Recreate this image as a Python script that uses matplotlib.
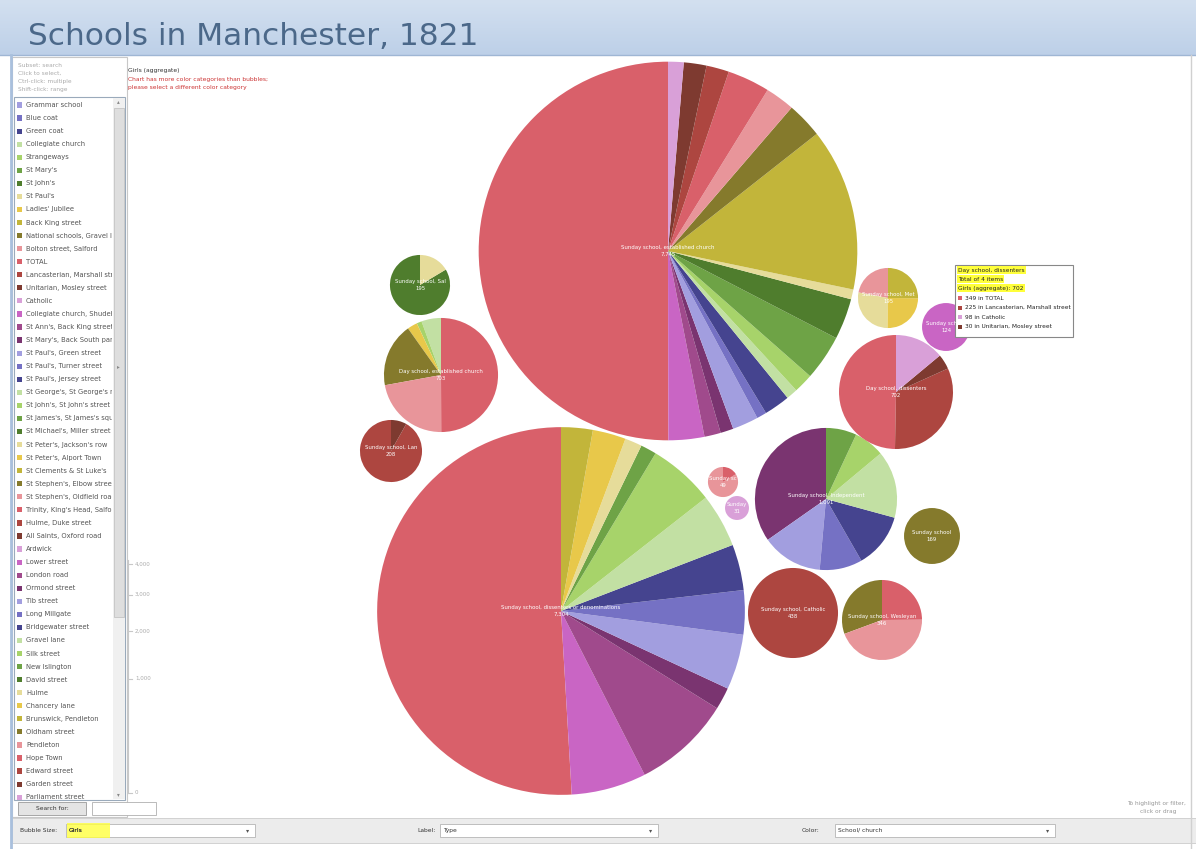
import numpy as np
import matplotlib.pyplot as plt
from matplotlib.patches import Rectangle
from matplotlib.colors import LinearSegmentedColormap

W, H = 1196, 849

# schools, in the order of the colour list on the left
schools = ["Grammar school", "Blue coat", "Green coat", "Collegiate church", "Strangeways",
           "St Mary's", "St John's", "St Paul's", "Ladies' Jubilee", "Back King street",
           "National schools, Gravel lane", "Bolton street, Salford", "TOTAL",
           "Lancasterian, Marshall street", "Unitarian, Mosley street", "Catholic",
           "Collegiate church, Shudehill", "St Ann's, Back King street",
           "St Mary's, Back South parade", "St Paul's, Green street", "St Paul's, Turner street",
           "St Paul's, Jersey street", "St George's, St George's road",
           "St John's, St John's street", "St James's, St James's square",
           "St Michael's, Miller street", "St Peter's, Jackson's row", "St Peter's, Alport Town",
           "St Clements & St Luke's", "St Stephen's, Elbow street", "St Stephen's, Oldfield road",
           "Trinity, King's Head, Salford", "Hulme, Duke street", "All Saints, Oxford road",
           "Ardwick", "Lower street", "London road", "Ormond street", "Tib street",
           "Long Millgate", "Bridgewater street", "Gravel lane", "Silk street", "New Islington",
           "David street", "Hulme", "Chancery lane", "Brunswick, Pendleton", "Oldham street",
           "Pendleton", "Hope Town", "Edward street", "Garden street", "Parliament street"]

palette = ["#a29edf", "#7571c4", "#45448f",
           "#c2e0a3", "#a7d36a", "#6ea346", "#4f7d2d",
           "#e6dc9a", "#e8c84a", "#c2b53a", "#857a2c",
           "#e8959a", "#d9606a", "#ad4640", "#7e3a30",
           "#d9a0d8", "#c965c4", "#a04a8c", "#7a3470"]

# bubbles: type, schools in it, girls per school
bubble_types = ["Sunday school, established church",
                "Sunday school, dissenters or denominations",
                "Day school, established church",
                "Sunday school, Salford",
                "Sunday school, Lancasterian",
                "Sunday school, Methodist",
                "Sunday school, Baptist",
                "Sunday school, Quaker",
                "Sunday school, Welsh",
                "Sunday school, Independent",
                "Sunday school",
                "Sunday school, Catholic",
                "Sunday school, Wesleyan",
                "Day school, dissenters"]

bubble_schools = [
    ["TOTAL", "Collegiate church, Shudehill", "St Ann's, Back King street",
     "St Mary's, Back South parade", "St Paul's, Green street", "St Paul's, Turner street",
     "St Paul's, Jersey street", "St George's, St George's road", "St John's, St John's street",
     "St James's, St James's square", "St Michael's, Miller street", "St Peter's, Jackson's row",
     "St Clements & St Luke's", "St Stephen's, Elbow street", "St Stephen's, Oldfield road",
     "Trinity, King's Head, Salford", "Hulme, Duke street", "All Saints, Oxford road", "Ardwick"],
    ["TOTAL", "Lower street", "London road", "Ormond street", "Tib street", "Long Millgate",
     "Bridgewater street", "Gravel lane", "Silk street", "New Islington", "Hulme",
     "Chancery lane", "Brunswick, Pendleton"],
    ["Collegiate church", "Strangeways", "Ladies' Jubilee", "National schools, Gravel lane",
     "Bolton street, Salford", "TOTAL"],
    ["St John's", "St Paul's"],
    ["Lancasterian, Marshall street", "Unitarian, Mosley street"],
    ["St Stephen's, Oldfield road", "Hulme", "Chancery lane", "Brunswick, Pendleton"],
    ["Collegiate church, Shudehill"],
    ["Pendleton", "Hope Town"],
    ["Parliament street"],
    ["St Mary's, Back South parade", "St Paul's, Green street", "St Paul's, Turner street",
     "St Paul's, Jersey street", "St George's, St George's road", "St John's, St John's street",
     "St James's, St James's square"],
    ["Oldham street"],
    ["Edward street"],
    ["St Stephen's, Elbow street", "St Stephen's, Oldfield road", "Trinity, King's Head, Salford"],
    ["TOTAL", "Lancasterian, Marshall street", "Unitarian, Mosley street", "Catholic"],
]

bubble_girls = [
    [3875, 237, 108, 86, 172, 65, 172, 75, 129, 301, 271, 65, 1075, 237, 194, 280, 150, 150, 103],
    [3720, 481, 629, 142, 355, 284, 294, 345, 426, 102, 110, 213, 203],
    [39, 10, 20, 127, 156, 351],
    [163, 32],
    [191, 17],
    [43, 54, 49, 49],
    [124],
    [41, 8],
    [31],
    [379, 151, 106, 136, 167, 76, 76],
    [169],
    [438],
    [106, 154, 86],
    [349, 225, 30, 98],
]

size_ticks = [0, 1000, 2000, 3000, 4000]

# packed layout: bubble centres in screen pixels
bubble_xy = [(668, 251), (561, 611), (441, 375), (420, 285), (391, 451), (888, 298),
             (946, 327), (723, 482), (737, 508), (826, 499), (932, 536), (793, 613),
             (882, 620), (896, 392)]

fig = plt.figure(figsize=(W / 100, H / 100), dpi=100)
ax = fig.add_axes([0, 0, 1, 1])


def box(x0, y0, x1, y1, **kw):
    ax.add_patch(Rectangle((x0, H - y1), x1 - x0, y1 - y0, **kw))


def txt(x, y, s, **kw):
    return ax.text(x, H - y, s, **kw)


# title bar (soft vertical gradient)
grad = LinearSegmentedColormap.from_list("bar", ["#bdd0e8", "#d3e0f0"])
ax.imshow(np.linspace(0, 1, 64).reshape(-1, 1), cmap=grad, aspect="auto",
          extent=(0, W, H - 55, H), origin="lower", zorder=0)
ax.plot([0, W], [H - 55, H - 55], color="#9fb6d4", lw=1)
txt(28, 36, "Schools in Manchester, 1821", fontsize=22.5, color="#4b6889", va="center")
ax.plot([11, 11], [0, H - 55], color="#a9c0dd", lw=2)
ax.plot([1191, 1191], [0, H - 55], color="#d0d0d0", lw=1)

# bubbles
k = 57 / np.sqrt(702)
for name, xy, sch, girls in zip(bubble_types, bubble_xy, bubble_schools, bubble_girls):
    total = sum(girls)
    r = k * np.sqrt(total)
    cols = [palette[schools.index(s) % len(palette)] for s in sch]
    ax.pie(girls, colors=cols, startangle=90, counterclock=True,
           center=(xy[0], H - xy[1]), radius=r, frame=True,
           wedgeprops=dict(linewidth=0))
    short = name[:int(2 * r / 3.3)].rstrip(" ,")
    txt(xy[0], xy[1], f"{short}\n{total:,}", ha="center", va="center",
        color="white", fontsize=3.9, linespacing=1.5)

# size axis
c = (793 - 564) / np.sqrt(4000)
ax.plot([128, 128], [H - 793, H - 560], color="#c8c8c8", lw=0.8)
for t in size_ticks:
    yy = 793 - c * np.sqrt(t)
    ax.plot([128, 132], [H - yy, H - yy], color="#c8c8c8", lw=0.8)
    txt(135, yy, f"{t:,}", fontsize=4, color="#aaaaaa", va="center")

# notes at top of chart
txt(128, 70, "Girls (aggregate)", fontsize=4.3, color="#333333", va="center")
txt(128, 79, "Chart has more color categories than bubbles;", fontsize=4.3, color="#cc3333", va="center")
txt(128, 87, "please select a different color category", fontsize=4.3, color="#cc3333", va="center")

# left panel
box(12, 57, 127, 817, facecolor="white", edgecolor="#c8c8c8", lw=0.8)
for i, s in enumerate(["Subset: search", "Click to select,", "Ctrl-click: multiple",
                       "Shift-click: range"]):
    txt(18, 65 + i * 8.3, s, fontsize=4.2, color="#aaaaaa", va="center")
box(14, 97, 125, 800, facecolor="white", edgecolor="#9aaabb", lw=0.8)
box(113, 98, 124.5, 799, facecolor="#f0f0f0", edgecolor="none")
box(114, 108, 124, 617, facecolor="#dedede", edgecolor="#bdbdbd", lw=0.5)
txt(118.5, 102, "▴", fontsize=4, color="#888888", ha="center", va="center")
txt(118.5, 795, "▾", fontsize=4, color="#888888", ha="center", va="center")
txt(118.5, 367, "▸", fontsize=4, color="#888888", ha="center", va="center")

lax = fig.add_axes([14 / W, (H - 800) / H, (112 - 14) / W, (800 - 97) / H])
lax.set_xlim(14, 112)
lax.set_ylim(800, 97)
lax.axis("off")
for i, s in enumerate(schools):
    yy = 105 + i * 13.06
    lax.add_patch(Rectangle((17, yy - 2.6), 5.2, 5.2, facecolor=palette[i % len(palette)],
                            edgecolor="none"))
    lax.text(26, yy, s, fontsize=4.9, color="#555555", va="center", clip_on=True)

box(18, 802, 86, 815, facecolor="#e4e4e4", edgecolor="#9a9a9a", lw=0.6)
txt(52, 808.5, "Search for:", fontsize=4.3, color="#333333", ha="center", va="center")
box(92, 802, 156, 815, facecolor="white", edgecolor="#b0b0b0", lw=0.6)

txt(1127, 803, "To highlight or filter,", fontsize=4.2, color="#999999", va="center")
txt(1140, 812, "click or drag", fontsize=4.2, color="#999999", va="center")

# bottom control bar
box(12, 818, W, 843, facecolor="#ececec", edgecolor="#cccccc", lw=0.6)
controls = [(20, 66, 255, "Bubble Size:", "Girls"), (417, 440, 658, "Label:", "Type"),
            (802, 835, 1055, "Color:", "School/ church")]
for lx, bx0, bx1, lab, val in controls:
    txt(lx, 830.5, lab, fontsize=4.3, color="#333333", va="center")
    box(bx0, 824, bx1, 837, facecolor="white", edgecolor="#b5b5b5", lw=0.6)
    txt(bx0 + 3, 830.5, val, fontsize=4.3, color="#333333", va="center")
    txt(bx1 - 7, 830.5, "▾", fontsize=4.5, color="#555555", ha="center", va="center")
box(67, 823, 110, 838, facecolor="#ffff40", edgecolor="none", alpha=0.8)
txt(69, 830.5, "Girls", fontsize=4.3, color="#333333", va="center")

# tooltip for the day school, dissenters bubble
tip = len(bubble_types) - 1
tip_total = sum(bubble_girls[tip])
box(955, 265, 1073, 337, facecolor="white", edgecolor="#888888", lw=0.8)
hl = dict(facecolor="#ffff3a", edgecolor="none", pad=0.9)
txt(958, 270, bubble_types[tip], fontsize=4.2, color="#222222", va="center", bbox=hl)
txt(958, 279, f"Total of {len(bubble_girls[tip])} items", fontsize=4.2, color="#222222",
    va="center", bbox=hl)
txt(958, 288, f"Girls (aggregate): {tip_total}", fontsize=4.2, color="#222222", va="center",
    bbox=hl)
order = np.argsort(bubble_girls[tip])[::-1]
for j, idx in enumerate(order):
    s = bubble_schools[tip][idx]
    yy = 298 + j * 9.5
    box(958, yy - 2, 962, yy + 2, facecolor=palette[schools.index(s) % len(palette)],
        edgecolor="none")
    txt(965, yy, f"{bubble_girls[tip][idx]} in {s}", fontsize=4.2, color="#222222", va="center")

ax.set_xlim(0, W)
ax.set_ylim(0, H)
ax.set_aspect("auto")
ax.axis("off")
fig.savefig("out.png", dpi=100)
